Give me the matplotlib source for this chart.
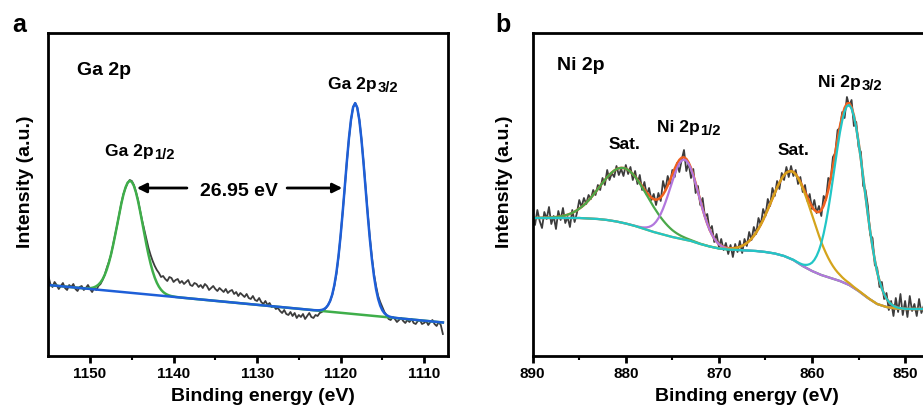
import numpy as np
import matplotlib
matplotlib.use("Agg")
import matplotlib.pyplot as plt

plt.rcParams['font.family'] = ['Liberation Sans', 'DejaVu Sans']
plt.rcParams['font.weight'] = 'bold'

# ---------------- Panel a : Ga 2p ----------------
ga_e_start, ga_e_step = 1155.0, -0.25
ga_raw = [80, 72, 69, 74, 71, 67, 70, 73, 68, 66, 71, 69, 72, 67, 65, 69,
          70, 66, 68, 71, 67, 64, 68, 66,
          70, 72, 76, 81, 88, 94, 101, 111, 121, 131, 142, 153, 162, 168, 173, 176,
          175, 171, 164, 156, 145, 135, 126, 117, 108, 101, 95, 90,
          86, 83, 79, 80, 77, 75, 79, 78, 74, 76, 77, 73, 75, 72, 74, 76, 71, 70, 73, 72,
          69, 71, 68, 72, 70, 66, 68, 70, 67, 65, 68, 66, 64, 67, 63, 65, 66, 62, 64, 60,
          63, 61, 59, 62, 58, 57, 60, 56, 55, 58, 54, 52, 55, 51, 53, 49, 50, 47, 48, 45,
          43, 46, 42, 41, 44, 40, 43, 38, 41, 39, 42, 37, 40, 43, 39, 38, 41, 40, 43, 44,
          46, 48, 51, 55, 61, 70, 82, 99, 120, 144, 168, 194, 217, 236, 249, 253,
          248, 236, 217, 194, 168, 143, 119, 99, 82, 70, 60, 54, 49, 44, 41, 37,
          36, 39, 37, 34, 36, 38, 35, 33, 36, 34, 37, 33, 32, 35, 36, 32,
          33, 35, 31, 34, 36, 32, 30, 34, 31, 22]
ga_bg_e = [1155.0, 1107.1]
ga_bg_i = [71.0, 33.0]
ga_peak_centers = [1145.2, 1118.25]
ga_peak_heights = [112.0, 211.0]
ga_peak_fwhm = [3.6, 2.9]

# ---------------- Panel b : Ni 2p ----------------
ni_e_start, ni_e_step = 890.0, -0.25
ni_raw = [141, 131, 146, 135, 128, 144, 137, 149, 132, 140, 127, 145, 136, 148, 133, 139,
          129, 146, 134, 143, 156, 149, 158, 152, 161, 157, 166, 161, 171, 166, 178, 171,
          186, 176, 183, 179, 190, 181, 187, 180, 191, 182, 189, 176, 185, 172, 181, 166,
          174, 161, 168, 156, 162, 151, 163, 155, 175, 166, 180, 172, 186, 179, 193, 184,
          196, 206, 185, 193, 178, 187, 163, 170, 151, 158, 139, 142, 126, 130, 114, 122,
          109, 117, 106, 113, 102, 111, 99, 112, 104, 115, 103, 117, 110, 124, 116, 129,
          122, 138, 131, 147, 140, 157, 150, 168, 160, 175, 167, 183, 176, 189, 179, 190,
          180, 186, 172, 179, 164, 171, 155, 162, 147, 156, 143, 150, 140, 160, 156, 178,
          176, 199, 203, 226, 228, 244, 238, 259, 250, 256, 230, 234, 209, 204, 170, 166,
          150, 121, 118, 91, 88, 69, 74, 57, 63, 46, 55, 40, 58, 44, 62, 41,
          55, 39, 60, 45, 52, 40, 57, 43, 50]
ni_bg_e = [890, 889, 888, 887, 886, 885, 884, 883, 882, 881, 880, 879, 878, 877, 876,
           875, 874, 873, 872, 871, 870, 869, 868, 867, 866, 865, 864, 863, 862, 861,
           860, 859, 858, 857, 856, 855, 854, 853, 852, 851, 850, 849, 848, 847]
ni_bg_i = [138, 138, 138, 138, 138, 138, 137.5, 137, 136, 134.5, 132.5, 130, 127, 124, 121.5,
           119, 117, 115, 112, 109.5, 107.5, 106.5, 106, 105.5, 105, 104, 102.5, 100, 96, 90,
           85, 81, 78, 75, 71, 65, 58, 52, 49, 47.5, 47, 47, 47, 47]
ni_peak_names = ['Sat. 1', 'Ni 2p1/2', 'Sat. 2', 'Ni 2p3/2']
ni_peak_centers = [880.2, 873.7, 862.1, 856.0]
ni_peak_heights = [55.0, 80.0, 88.0, 180.0]
ni_peak_fwhm = [6.0, 3.6, 5.2, 3.8]
ni_peak_colors = ['#4aa84a', '#b277dd', '#d4a41c', '#22c6c6']


def gauss(x, c, h, f):
    return h * np.exp(-4 * np.log(2) * (x - c) ** 2 / f ** 2)


W, H = 923, 415
fig = plt.figure(figsize=(W / 100, H / 100), dpi=100)


def px_axes(x0, x1, y0, y1):
    return fig.add_axes([x0 / W, 1 - y1 / H, (x1 - x0) / W, (y1 - y0) / H])


ax1 = px_axes(48.3, 448.3, 33, 356)
ax2 = px_axes(532.7, 532.7 + 42.5 * 9.31, 33, 356)

raw_color = '#3c3c3c'


def sub_label(ax, x, y, main, sub, size):
    t = ax.text(x, y, main, fontsize=size, fontweight='bold', ha='left', va='baseline')
    ax.annotate(sub, xy=(1, 0), xycoords=t, xytext=(0.5, 0.0), textcoords='offset points',
                fontsize=size * 0.85, fontweight='bold', ha='left', va='baseline')


# Panel a
ga_e = ga_e_start + ga_e_step * np.arange(len(ga_raw))
ga_bg = np.interp(ga_e, ga_bg_e[::-1], ga_bg_i[::-1])
ax1.plot(ga_e, ga_raw, color=raw_color, lw=1.3)
ax1.plot(ga_e, ga_bg + gauss(ga_e, ga_peak_centers[0], ga_peak_heights[0], ga_peak_fwhm[0]),
         color='#3fae4a', lw=1.8)
ax1.plot(ga_e, ga_bg + gauss(ga_e, ga_peak_centers[1], ga_peak_heights[1], ga_peak_fwhm[1]),
         color='#1e5fd8', lw=1.8)
ax1.set_xlim(1155, 1107.1)
ax1.set_ylim(0, 323)
ax1.set_xticks([1150, 1140, 1130, 1120, 1110])
ax1.set_xticks([1145, 1135, 1125, 1115], minor=True)

ax1.text(1151.6, 281, 'Ga 2p', fontsize=14, fontweight='bold', va='baseline', ha='left')
sub_label(ax1, 1121.5, 267, 'Ga 2p', '3/2', 12.5)
sub_label(ax1, 1148.2, 200, 'Ga 2p', '1/2', 12.5)
ax1.text(1132.2, 160, '26.95 eV', fontsize=14, fontweight='bold', va='baseline', ha='center')
arrow_kw = dict(arrowstyle='-|>', color='black', lw=2, mutation_scale=14, shrinkA=0, shrinkB=0)
ax1.annotate('', xy=(1144.4, 168), xytext=(1138.4, 168), arrowprops=arrow_kw)
ax1.annotate('', xy=(1119.8, 168), xytext=(1126.4, 168), arrowprops=arrow_kw)

# Panel b
ni_e = ni_e_start + ni_e_step * np.arange(len(ni_raw))
ni_bg = np.interp(ni_e, ni_bg_e[::-1], ni_bg_i[::-1])
comps = [gauss(ni_e, c, h, f) for c, h, f in zip(ni_peak_centers, ni_peak_heights, ni_peak_fwhm)]
ax2.plot(ni_e, ni_raw, color=raw_color, lw=1.3)
ax2.plot(ni_e, ni_bg + sum(comps), color='#f0601e', lw=1.8)
for comp, col in zip(comps, ni_peak_colors):
    ax2.plot(ni_e, ni_bg + comp, color=col, lw=1.6)
ax2.set_xlim(890, 847.5)
ax2.set_ylim(0, 323)
ax2.set_xticks([890, 880, 870, 860, 850])
ax2.set_xticks([885, 875, 865, 855], minor=True)

ax2.text(887.4, 286, 'Ni 2p', fontsize=14, fontweight='bold', va='baseline', ha='left')
sub_label(ax2, 859.35, 269, 'Ni 2p', '3/2', 12.5)
sub_label(ax2, 876.65, 224, 'Ni 2p', '1/2', 12.5)
ax2.text(880.1, 207, 'Sat.', fontsize=12.5, fontweight='bold', va='baseline', ha='center')
ax2.text(862.0, 201, 'Sat.', fontsize=12.5, fontweight='bold', va='baseline', ha='center')

for ax in (ax1, ax2):
    for s in ax.spines.values():
        s.set_linewidth(2.0)
    ax.set_yticks([])
    ax.tick_params(axis='x', which='major', direction='out', length=5, width=2,
                   labelsize=11, pad=3)
    ax.tick_params(axis='x', which='minor', direction='out', length=3, width=1.5)
    for lab in ax.get_xticklabels():
        lab.set_fontweight('bold')
    ax.set_xlabel('Binding energy (eV)', fontsize=14, fontweight='bold')
    ax.set_ylabel('Intensity (a.u.)', fontsize=14, fontweight='bold')

ax1.xaxis.set_label_coords(0.537, -0.10)
ax2.xaxis.set_label_coords(0.5416, -0.10)
ax1.yaxis.set_label_coords(-0.036, 0.539)
ax2.yaxis.set_label_coords(-0.05, 0.539)

fig.text(12 / W, 1 - 32 / H, 'a', fontsize=18, fontweight='bold', ha='left', va='baseline')
fig.text(495 / W, 1 - 32 / H, 'b', fontsize=18, fontweight='bold', ha='left', va='baseline')

fig.savefig('out.png', dpi=100)
